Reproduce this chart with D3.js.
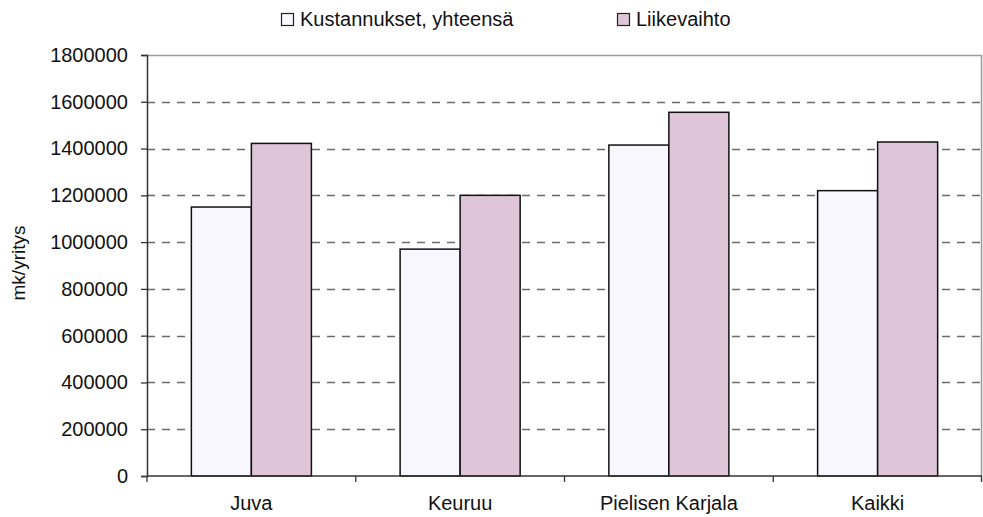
<!DOCTYPE html>
<html>
<head>
<meta charset="utf-8">
<script src="https://cdn.jsdelivr.net/npm/d3@7"></script>
<style>
   body { margin: 0; background: #fff; }
   svg { display: block; font-family: 'Liberation Sans', Arial, sans-serif; }
</style>
</head>
<body>
<div id="chart"></div>
<script>

// CATEGORIES
var categories = ['Juva', 'Keuruu', 'Pielisen Karjala', 'Kaikki'];

// SERIES NAMES
var series = ['Kustannukset, yhteensä', 'Liikevaihto'];

// SERIES VALUES
var kustannukset = [1150000, 970000, 1415000, 1220000];
var liikevaihto = [1422000, 1200000, 1555000, 1428000];

// Y TICKS
var yTicks = [0, 200000, 400000, 600000, 800000, 1000000, 1200000, 1400000, 1600000, 1800000];

// SETTINGS
var settings = {
   width: 983,
   height: 517,
   margin: { left: 147, right: 1, top: 55, bottom: 41 },
   fill: ['#f8f7fe', '#dec5d7'],
   font: 20
};

// PLOT SIZE
var plotW = settings.width - settings.margin.left - settings.margin.right;
var plotH = settings.height - settings.margin.top - settings.margin.bottom;

// CANVAS
var canvas = d3.select('#chart').append('svg')
   .attr('width', settings.width)
   .attr('height', settings.height)

var plot = canvas.append('g')
   .attr('transform', 'translate(' + settings.margin.left + ',' + settings.margin.top + ')')

// Y-SCALING
var yScale = d3.scaleLinear()
   .domain([0, 1800000])
   .range([plotH, 0])

// X-SCALING -- GROUPS
var xScale = d3.scaleBand()
   .domain(categories)
   .range([0, plotW])
   .paddingInner(0.425)
   .paddingOuter(0.2125)

// X-SCALING -- BARS INSIDE GROUP
var xInner = d3.scaleBand()
   .domain(series)
   .range([0, xScale.bandwidth()])

// GRIDLINES
plot.selectAll('line.grid')
   .data(yTicks.filter(d => d > 0 && d < 1800000))
      .enter().append('line')
         .attr('class', 'grid')
         .attr('x1', 0)
         .attr('x2', plotW)
         .attr('y1', d => Math.round(yScale(d)) + 0.5)
         .attr('y2', d => Math.round(yScale(d)) + 0.5)
         .attr('stroke', '#6a6a6a')
         .attr('stroke-width', 1.3)
         .attr('stroke-dasharray', '8,7')

// PLOT BORDER TOP & RIGHT
plot.append('path')
   .attr('d', 'M0,0.5H' + (plotW - 0.5) + 'V' + plotH)
   .attr('fill', 'none')
   .attr('stroke', '#9a9a9a')
   .attr('stroke-width', 1.5)

// BARS
var values = [kustannukset, liikevaihto];
series.forEach((name, s) => {
   plot.selectAll('rect.s' + s)
      .data(values[s])
         .enter().append('rect')
            .attr('class', 's' + s)
            .attr('x', (d, i) => xScale(categories[i]) + xInner(name))
            .attr('y', d => yScale(d))
            .attr('width', xInner.bandwidth())
            .attr('height', d => plotH - yScale(d))
            .attr('fill', settings.fill[s])
            .attr('stroke', '#111')
            .attr('stroke-width', 1.5)
});

// Y-AXIS
var yAxis = d3.axisLeft(yScale)
   .tickValues(yTicks)
   .tickFormat(d3.format('d'))
   .tickSize(6)
   .tickPadding(13)

var gy = plot.append('g').call(yAxis)
gy.select('.domain').attr('stroke', '#333').attr('stroke-width', 1.5)
gy.selectAll('.tick line').attr('stroke', '#333').attr('stroke-width', 1.3)
gy.selectAll('text').attr('font-size', settings.font).attr('fill', '#111').attr('font-family', 'Liberation Sans, Arial, sans-serif')

// X-AXIS -- TICKS AT GROUP BOUNDARIES
var xBounds = d3.scaleLinear().domain([0, categories.length]).range([0, plotW]);
var gx = plot.append('g').attr('transform', 'translate(0,' + plotH + ')')

gx.append('line')
   .attr('x1', 0)
   .attr('x2', plotW)
   .attr('stroke', '#333')
   .attr('stroke-width', 1.5)

gx.selectAll('line.tick')
   .data(d3.range(categories.length + 1))
      .enter().append('line')
         .attr('class', 'tick')
         .attr('x1', d => Math.min(xBounds(d), plotW - 0.5))
         .attr('x2', d => Math.min(xBounds(d), plotW - 0.5))
         .attr('y1', 0)
         .attr('y2', 6)
         .attr('stroke', '#333')
         .attr('stroke-width', 1.3)

gx.selectAll('text')
   .data(categories)
      .enter().append('text')
         .attr('x', d => xScale(d) + xScale.bandwidth() / 2)
         .attr('y', 34)
         .attr('text-anchor', 'middle')
         .attr('font-size', settings.font)
         .attr('fill', '#111')
         .text(d => d)

// Y-AXIS TITLE
canvas.append('text')
   .attr('transform', 'translate(25,263) rotate(-90)')
   .attr('text-anchor', 'middle')
   .attr('font-size', 19)
   .attr('fill', '#111')
   .text('mk/yritys')

// LEGEND
var legendX = [281, 617];
series.forEach((name, s) => {
   var item = canvas.append('g').attr('transform', 'translate(' + legendX[s] + ',13)')
   item.append('rect')
      .attr('x', 0.5)
      .attr('y', 0.5)
      .attr('width', 12)
      .attr('height', 12)
      .attr('fill', settings.fill[s])
      .attr('stroke', '#222')
      .attr('stroke-width', 1.2)
   item.append('text')
      .attr('x', 19)
      .attr('y', 13)
      .attr('font-size', settings.font)
      .attr('fill', '#111')
      .text(name)
});

</script>
</body>
</html>
